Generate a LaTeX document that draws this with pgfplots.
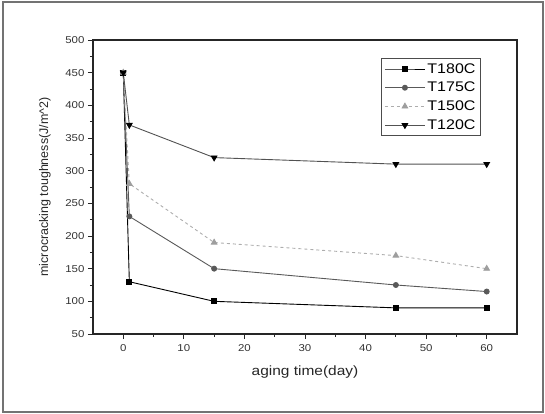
\documentclass[border=0pt]{standalone}
\usepackage{fontspec}
\setmainfont{Liberation Sans}[FakeStretch=1.15]
\newfontfamily\plainsans{Liberation Sans}
\usepackage{pgfplots}
\pgfplotsset{compat=1.18}

\definecolor{ln175}{gray}{0.35}
\definecolor{ln150}{gray}{0.68}
\definecolor{mk150}{gray}{0.62}
\definecolor{ln120}{gray}{0.32}
\definecolor{frm}{gray}{0.45}

\begin{document}
\begin{tikzpicture}
  % the axis box sits at the origin; figure frame is 93bp left, 80bp below
  \useasboundingbox (-93bp,-80bp) rectangle (452bp,334bp);
  \draw[frm, line width=1.3bp] (-90bp,-78bp) rectangle (450bp,332bp);
  \begin{axis}[
    at={(0bp,0bp)}, anchor=south west,
    scale only axis,
    width=424bp, height=294bp,
    xmin=-5, xmax=65,
    ymin=50, ymax=500,
    xtick={0,10,...,60},
    ytick={50,100,...,500},
    minor x tick num=1,
    minor y tick num=1,
    tick pos=left,
    tick align=outside,
    major tick length=5bp,
    minor tick length=3bp,
    axis line style={line width=1.2bp, black!85},
    every tick/.style={black!85, line width=0.9bp},
    /pgf/number format/assume math mode=true,
    ticklabel style={font=\fontsize{10}{12}\selectfont, black!80},
    xticklabel style={yshift=-2bp},
    label style={black!85},
    xlabel={aging time(day)},
    ylabel={microcracking toughness(J/m\^{}2)},
    xlabel style={font=\fontsize{13.5}{15}\selectfont,
      at={(axis description cs:0.5,0)}, anchor=center, yshift=-38bp},
    ylabel style={font=\plainsans\fontsize{12.5}{14}\selectfont,
      at={(axis description cs:0,0.5)}, anchor=center, yshift=48bp},
    legend cell align=left,
    legend style={at={(0.915,0.939)}, anchor=north east,
      draw=black!70, line width=0.9bp,
      font=\fontsize{14}{16}\selectfont,
      row sep=3.5bp, inner sep=3bp},
    legend image code/.code={\draw[mark repeat=2,mark phase=2,#1] plot coordinates {(0bp,0bp) (20bp,0bp) (40bp,0bp)};},
  ]
    \addplot[black, line width=0.9bp, mark=square*, mark size=2.5bp, mark options={fill=black, solid}]
      coordinates {(0,450) (1,130) (15,100) (45,90) (60,90)};
    \addlegendentry{T180C}
    \addplot[ln175, line width=0.9bp, mark=*, mark size=2.5bp, mark options={fill=ln175, draw=ln175, solid}]
      coordinates {(0,450) (1,230) (15,150) (45,125) (60,115)};
    \addlegendentry{T175C}
    \addplot[ln150, line width=0.9bp, dashed, mark=triangle*, mark size=3.2bp, mark options={fill=mk150, draw=mk150, solid}]
      coordinates {(0,450) (1,280) (15,190) (45,170) (60,150)};
    \addlegendentry{T150C}
    \addplot[ln120, line width=0.9bp, mark=triangle*, mark size=3.2bp, mark options={fill=black, draw=black, rotate=180, solid}]
      coordinates {(0,450) (1,370) (15,320) (45,310) (60,310)};
    \addlegendentry{T120C}
  \end{axis}
\end{tikzpicture}
\end{document}
